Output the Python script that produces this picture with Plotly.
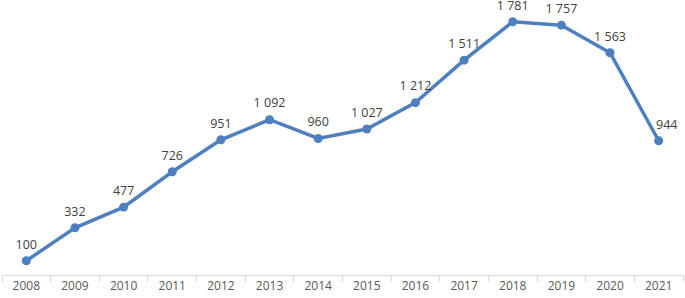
import plotly.graph_objects as go

years = ["2008", "2009", "2010", "2011", "2012", "2013", "2014", "2015", "2016", "2017", "2018", "2019", "2020", "2021"]
values = [100, 332, 477, 726, 951, 1092, 960, 1027, 1212, 1511, 1781, 1757, 1563, 944]

NB = "\u00a0"
label_templates = ["%{y:,}"] * (len(values) - 1) + [NB * 5 + "%{y:,}"]

fig = go.Figure()
fig.add_trace(go.Scatter(
    x=years, y=values,
    mode="lines+markers",
    line=dict(color="#4e7fbe", width=3.5),
    marker=dict(color="#4e7fbe", size=9),
    hoverinfo="skip",
))
fig.add_trace(go.Scatter(
    x=years, y=values,
    mode="markers+text",
    marker=dict(color="rgba(0,0,0,0)", size=13),
    texttemplate=label_templates,
    textposition="top center",
    textfont=dict(family="Open Sans, Liberation Sans, sans-serif", size=12.5, color="#404040"),
    cliponaxis=False,
    hoverinfo="skip",
))

fig.update_layout(
    width=685, height=298,
    margin=dict(l=2, r=2, t=0, b=23),
    paper_bgcolor="white", plot_bgcolor="white",
    separators=". ",
    showlegend=False,
    xaxis=dict(
        type="category", range=[-0.5, 13.5],
        showline=True, linecolor="#d9d9d9", linewidth=1,
        ticks="outside", tickson="boundaries", ticklen=6, tickcolor="#d9d9d9",
        showgrid=False, zeroline=False,
        tickfont=dict(family="Open Sans, Liberation Sans, sans-serif", size=12, color="#595959"),
    ),
    yaxis=dict(range=[0, 1934], visible=False, showgrid=False, zeroline=False),
)

fig.write_html("out.html", config={"displayModeBar": False},
               post_script="document.body.style.margin='0';document.body.style.overflow='hidden';")
